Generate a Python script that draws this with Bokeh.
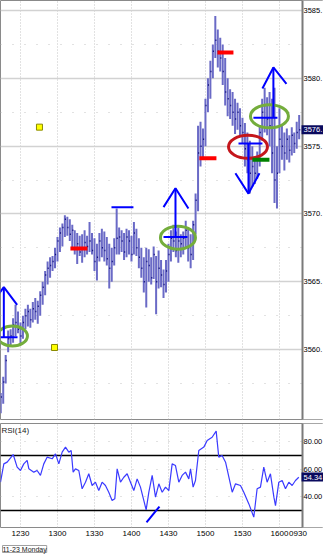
from bokeh.plotting import figure
from bokeh.layouts import column
from bokeh.models import FixedTicker, Label, Title, Range1d, BoxAnnotation
from bokeh.embed import file_html
from bokeh.resources import INLINE

# ---------------- data (time = minutes after 12:00, 2-minute bars) ----------------
bar_t = list(range(14, 258, 2))
bar_hi = [3556.8, 3558.0, 3559.6, 3561.4, 3561.5, 3562.3, 3563.3, 3562.8, 3562.0, 3562.5,
          3563.0, 3563.3, 3563.0, 3563.5, 3563.8, 3563.6, 3564.3, 3565.0, 3565.8, 3566.5,
          3566.8, 3566.9, 3567.5, 3568.3, 3569.0, 3569.3, 3569.9, 3569.8, 3569.6, 3569.2,
          3568.8, 3568.6, 3568.4, 3568.5, 3568.8, 3568.4, 3569.4, 3568.6, 3568.2, 3567.8,
          3568.6, 3568.9, 3568.7, 3568.3, 3567.8, 3567.5, 3568.2, 3570.4, 3569.0, 3568.8,
          3568.6, 3568.9, 3568.8, 3568.4, 3569.4, 3568.9, 3568.2, 3567.5, 3566.8, 3567.5,
          3567.4, 3566.8, 3567.6, 3566.9, 3567.3, 3566.6, 3565.9, 3566.6, 3567.8, 3568.8,
          3569.2, 3568.7, 3569.0, 3568.5, 3568.7, 3569.5, 3568.9, 3568.5, 3569.5, 3571.5,
          3576.5, 3576.8, 3576.3, 3578.5, 3580.0, 3581.3, 3582.5, 3584.6, 3583.6, 3583.0,
          3582.5, 3581.5, 3580.0, 3579.2, 3579.0, 3578.5, 3578.2, 3577.8, 3577.1, 3576.7,
          3576.0, 3575.4, 3575.0, 3574.2, 3574.6, 3576.5, 3578.5, 3579.3, 3578.6, 3579.0,
          3578.5, 3579.3, 3575.0, 3577.8, 3576.5, 3576.0, 3576.3, 3575.8, 3576.4, 3576.0,
          3576.8, 3577.3]
bar_lo = [3555.3, 3556.0, 3557.5, 3559.8, 3560.3, 3560.5, 3561.0, 3561.2, 3560.4, 3560.8,
          3561.5, 3561.7, 3561.6, 3562.0, 3562.2, 3561.9, 3562.5, 3563.3, 3564.0, 3564.8,
          3565.3, 3565.8, 3566.0, 3566.5, 3567.2, 3567.6, 3568.3, 3568.4, 3568.0, 3567.4,
          3567.0, 3566.3, 3566.9, 3566.4, 3566.8, 3567.0, 3567.2, 3567.0, 3565.8, 3565.1,
          3566.5, 3566.8, 3566.5, 3566.2, 3564.5, 3565.0, 3566.2, 3567.0, 3567.0, 3567.2,
          3566.6, 3566.8, 3567.0, 3566.5, 3567.0, 3566.9, 3566.0, 3565.3, 3564.2, 3563.1,
          3565.0, 3564.8, 3565.2, 3562.6, 3564.5, 3564.6, 3563.8, 3564.2, 3565.0, 3566.5,
          3567.2, 3566.8, 3566.4, 3566.8, 3567.0, 3567.5, 3566.5, 3566.0, 3566.6, 3568.5,
          3570.2, 3573.5, 3574.2, 3575.0, 3577.5, 3578.5, 3580.0, 3581.5, 3580.8, 3580.5,
          3579.5, 3578.0, 3577.2, 3577.0, 3576.5, 3575.9, 3576.2, 3575.7, 3575.2, 3573.5,
          3573.0, 3571.5, 3572.0, 3572.2, 3572.6, 3573.5, 3575.4, 3576.0, 3575.8, 3575.0,
          3573.0, 3570.8, 3570.4, 3573.0, 3574.0, 3573.2, 3574.0, 3573.8, 3574.3, 3574.5,
          3574.8, 3575.5]
bar_cl = [3556.5, 3557.6, 3559.2, 3560.8, 3561.0, 3561.8, 3562.0, 3561.5, 3561.0, 3562.0,
          3562.5, 3562.8, 3562.2, 3563.0, 3562.8, 3563.2, 3564.0, 3564.6, 3565.5, 3566.0,
          3566.2, 3566.5, 3567.0, 3568.0, 3568.6, 3569.0, 3569.6, 3569.0, 3568.5, 3568.8,
          3567.5, 3567.8, 3567.2, 3567.5, 3567.9, 3567.6, 3568.0, 3567.3, 3566.5, 3566.8,
          3568.0, 3567.5, 3567.3, 3566.7, 3566.0, 3566.5, 3567.5, 3568.2, 3568.3, 3568.0,
          3567.2, 3568.3, 3568.0, 3567.0, 3568.6, 3567.5, 3566.8, 3566.0, 3565.0, 3566.5,
          3566.2, 3565.3, 3567.0, 3565.0, 3566.0, 3565.5, 3564.8, 3565.8, 3567.0, 3568.2,
          3568.0, 3567.3, 3568.0, 3567.8, 3568.2, 3568.8, 3567.5, 3567.0, 3569.2, 3571.0,
          3574.5, 3575.0, 3575.5, 3578.0, 3579.5, 3580.5, 3582.0, 3582.8, 3582.0, 3581.5,
          3580.5, 3579.0, 3578.5, 3578.0, 3577.5, 3577.0, 3577.5, 3576.5, 3576.0, 3574.8,
          3574.0, 3573.0, 3573.5, 3573.0, 3574.0, 3576.0, 3577.5, 3578.0, 3577.0, 3576.5,
          3574.5, 3572.5, 3573.0, 3575.5, 3575.0, 3574.5, 3575.5, 3574.7, 3575.8, 3575.2,
          3576.0, 3576.2]

rsi_t = [13.8, 16.5, 19.2, 24.1, 27.3, 30.0, 32.7, 35.4, 36.8, 40.8, 43.5, 46.2, 48.9, 51.6,
         55.7, 58.4, 61.1, 63.8, 66.5, 69.2, 71.1, 72.7, 74.6, 77.3, 80.0, 82.7, 85.4, 88.1,
         90.8, 93.5, 96.2, 98.9, 101.6, 104.3, 106.5, 108.4, 111.1, 113.8, 116.5, 119.2,
         121.9, 124.6, 127.3, 130.0, 131.9, 134.1, 136.8, 139.5, 142.2, 144.9, 147.6, 150.3,
         153.0, 155.7, 158.4, 161.1, 163.8, 166.5, 167.9, 170.0, 171.9, 174.6, 178.7, 181.4,
         185.4, 188.7, 190.8, 193.5, 196.3, 199.0, 201.7, 204.4, 208.4, 211.1, 215.2, 219.2,
         221.9, 224.6, 227.3, 230.0, 232.7, 235.5, 236.8, 239.5, 242.2, 244.9, 247.6, 250.3,
         253.0, 255.7]
rsi_v = [50.6, 63.9, 65.2, 70.7, 61.5, 59.1, 63.9, 66.4, 60.3, 57.9, 59.1, 55.5, 63.9, 68.8,
         67.6, 71.2, 63.9, 72.4, 76.1, 72.4, 73.6, 57.9, 60.3, 59.1, 45.8, 50.6, 56.7, 48.2,
         50.6, 44.5, 50.6, 48.2, 43.3, 37.3, 38.5, 60.3, 50.6, 54.2, 56.7, 50.6,
         44.5, 53.0, 47.0, 37.3, 30.5, 43.3, 55.5, 39.7, 49.4, 43.3, 47.0, 44.5,
         63.9, 62.7, 50.6, 55.5, 57.9, 53.0, 60.3, 47.0, 51.8, 73.6, 76.1, 80.9,
         83.3, 87.7, 68.8, 70.0, 65.1, 54.2, 43.3, 49.4, 48.2, 43.3, 34.8, 25.2,
         45.8, 47.0, 61.5, 50.6, 56.7, 39.7, 33.6, 50.6, 51.8, 45.8, 50.6, 48.2,
         51.8, 54.2]
rsi_levels = [70, 30]
rsi_last = 54.34
rsi_last_label = "54.34"
rsi_ticks = [40, 60, 80]
rsi_tick_labels = ["40.00", "60.00", "80.00"]

price_ticks = [3560, 3565, 3570, 3575, 3580, 3585]
price_tick_labels = ["3560.", "3565.", "3570.", "3575.", "3580.", "3585."]
price_minor = [3557.5, 3562.5, 3567.5, 3572.5, 3577.5, 3582.5]
price_last = 3576.2
price_last_label = "3576."

time_ticks = [30, 60, 90, 120, 150, 180, 210, 240, 255]
time_labels = ["1230", "1300", "1330", "1400", "1430", "1500", "1530", "1600", "0930"]
grid_ticks = [30, 60, 90, 120, 150, 180, 210, 240]
date_label = "11-23 Monday"

# drawn objects
lvl_t0 = [13.8, 103.8, 146.0, 206.8, 218.9]
lvl_t1 = [27.6, 121.6, 165.4, 226.2, 238.4]
lvl_p = [3560.9, 3570.5, 3568.3, 3575.2, 3577.1]
shaft_t = [16.5, 155.7, 214.9, 235.1]
shaft_p0 = [3560.9, 3568.3, 3575.2, 3577.1]
shaft_p1 = [3564.6, 3571.9, 3571.5, 3580.8]
chev_xs = [[5.7, 16.5, 27.3], [146.0, 155.7, 166.2], [204.3, 214.9, 223.8], [226.2, 235.1, 245.7]]
chev_ys = [[3563.3, 3564.6, 3563.3], [3570.5, 3571.9, 3570.4], [3573.0, 3571.5, 3573.0], [3579.25, 3580.8, 3579.6]]
red_t0 = [70.5, 175.1, 189.7]
red_t1 = [84.3, 188.9, 202.7]
red_p = [3567.45, 3574.1, 3581.9]
grn_t0 = [218.1]
grn_t1 = [231.9]
grn_p = [3574.0]
ell_t = [23.5, 157.7, 214.5, 231.9]
ell_p = [3561.0, 3568.25, 3574.95, 3577.2]
ell_w = [24.3, 28.4, 31.6, 30.8]
ell_h = [1.47, 1.7, 1.7, 1.7]
ell_c = ["#74ad3c", "#74ad3c", "#c4161c", "#74ad3c"]
sq_t = [45.4, 57.6]
sq_p = [3576.4, 3560.15]
rsi_tl_t = [132.2, 142.7]
rsi_tl_v = [21.3, 32.9]

# ---------------- figures ----------------
X0 = 13.8          # left edge of chart (minutes after 12:00)
T_AX = 258.7       # time at which the price scale starts
XR = 275.73        # right edge of the window
FONT = "Liberation Sans"
FS = "7.5px"
GRID = "#c4c4c4"
AXIS_COL = "#7a7a7a"


def style_right_axis(ax, ticks, labels):
    ax.fixed_location = T_AX
    ax.ticker = FixedTicker(ticks=ticks)
    ax.major_label_overrides = {v: s for v, s in zip(ticks, labels)}
    ax.major_tick_out = 0
    ax.major_tick_in = 0
    ax.minor_tick_out = 0
    ax.minor_tick_in = 0
    ax.major_label_standoff = 1
    ax.axis_line_color = AXIS_COL
    ax.axis_line_width = 2
    ax.major_label_text_font = FONT
    ax.major_label_text_font_size = FS
    ax.major_label_text_color = "#000000"


def base_fig(height, y_range, x_range, **kw):
    return figure(width=323, frame_height=height, x_range=x_range,
                  y_range=y_range, output_backend="svg", toolbar_location=None,
                  y_axis_location="right",
                  min_border_left=0, min_border_right=0,
                  background_fill_color="white", border_fill_color="white",
                  outline_line_color="#8a8a8a", outline_line_width=1, **kw)


main = base_fig(419, Range1d(3554.84, 3585.74), Range1d(X0, XR), x_axis_location=None,
                min_border_top=0, min_border_bottom=2)
style_right_axis(main.yaxis[0], price_ticks, price_tick_labels)

main.xgrid.ticker = FixedTicker(ticks=grid_ticks)
main.xgrid.grid_line_color = GRID
main.xgrid.grid_line_dash = "1 2"
main.ygrid.ticker = FixedTicker(ticks=price_ticks, minor_ticks=price_minor)
main.ygrid.grid_line_color = "#d2d2d2"
main.ygrid.grid_line_width = 1.5
main.ygrid.minor_grid_line_color = GRID
main.ygrid.minor_grid_line_dash = "1 11"
main.add_layout(BoxAnnotation(left=T_AX, fill_color="white", fill_alpha=1.0,
                              line_color=None, level="underlay"))

# bars
main.segment(x0=bar_t, y0=bar_lo, x1=bar_t, y1=bar_hi, line_color="#6a6ac6", line_width=2.0)
main.segment(x0=bar_t, y0=bar_cl, x1=[t + 0.9 for t in bar_t], y1=bar_cl,
             line_color="#14147e", line_width=1.5)

# objects
main.ellipse(x=ell_t, y=ell_p, width=ell_w, height=ell_h, fill_color=None,
             line_color=ell_c, line_width=3)
main.segment(x0=lvl_t0, y0=lvl_p, x1=lvl_t1, y1=lvl_p, line_color="#0000ff", line_width=2)
main.segment(x0=shaft_t, y0=shaft_p0, x1=shaft_t, y1=shaft_p1, line_color="#0000ff", line_width=2)
main.multi_line(xs=chev_xs, ys=chev_ys, line_color="#0000ff", line_width=2)
main.segment(x0=red_t0, y0=red_p, x1=red_t1, y1=red_p, line_color="#ff0000", line_width=4)
main.segment(x0=grn_t0, y0=grn_p, x1=grn_t1, y1=grn_p, line_color="#008000", line_width=4)
main.scatter(x=sq_t, y=sq_p, marker="square", size=6, fill_color="#ffff00", line_color="#8a8a00")

main.add_layout(Label(x=T_AX, y=price_last, x_offset=-1, text=price_last_label,
                      text_color="white", text_font=FONT, text_font_size=FS,
                      text_baseline="middle", text_align="left",
                      background_fill_color="#0a0a5e", padding=2))

# ---------------- RSI ----------------
rsi = base_fig(104, Range1d(17.64, 93.27), main.x_range,
               min_border_top=2, min_border_bottom=0)
style_right_axis(rsi.yaxis[0], rsi_ticks, rsi_tick_labels)

rx = rsi.xaxis[0]
rx.ticker = FixedTicker(ticks=time_ticks)
rx.major_label_overrides = {v: s for v, s in zip(time_ticks, time_labels)}
rx.major_tick_out = 0
rx.major_tick_in = 0
rx.minor_tick_out = 0
rx.minor_tick_in = 0
rx.axis_line_color = None
rx.major_label_standoff = 3
rx.major_label_text_font = FONT
rx.major_label_text_font_size = "8px"
rx.major_label_text_color = "#000000"

rsi.xgrid.ticker = FixedTicker(ticks=grid_ticks)
rsi.xgrid.grid_line_color = GRID
rsi.xgrid.grid_line_dash = "1 2"
rsi.ygrid.ticker = FixedTicker(ticks=rsi_ticks)
rsi.ygrid.grid_line_color = GRID
rsi.ygrid.grid_line_dash = "1 11"
rsi.add_layout(BoxAnnotation(left=T_AX, fill_color="white", fill_alpha=1.0,
                             line_color=None, level="underlay"))

rsi.segment(x0=[X0] * len(rsi_levels), y0=rsi_levels, x1=[T_AX] * len(rsi_levels), y1=rsi_levels,
            line_color="#000000", line_width=1.3)
rsi.line(x=rsi_t, y=rsi_v, line_color="#3a3aff", line_width=1.2)
rsi.line(x=rsi_tl_t, y=rsi_tl_v, line_color="#0000ff", line_width=2)

rsi.add_layout(Label(x=X0, y=93.27, x_offset=1, y_offset=-2, text="RSI(14)",
                     text_color="#202020", text_font=FONT, text_font_size="8px",
                     text_baseline="top", text_align="left"))
rsi.add_layout(Label(x=T_AX, y=rsi_last, x_offset=-1, text=rsi_last_label,
                     text_color="white", text_font=FONT, text_font_size=FS,
                     text_baseline="middle", text_align="left",
                     background_fill_color="#0a0a5e", padding=2))

rsi.add_layout(Title(text=date_label, align="left", offset=2, text_font=FONT,
                     text_font_size="7px", text_font_style="normal", text_color="#202020",
                     border_line_color="#a0a0a0", background_fill_color="white"), "below")

layout = column(main, rsi, spacing=0)
open("out.html", "w").write(file_html(layout, INLINE))
